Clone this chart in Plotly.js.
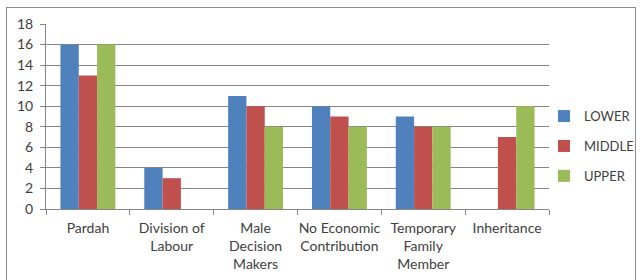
<!DOCTYPE html>
<html><head><meta charset="utf-8">
<script src="https://cdn.plot.ly/plotly-3.0.1.min.js"></script>
<style>
html,body{margin:0;padding:0;background:#fff;}
#wrap{position:relative;width:643px;height:280px;}
#chart{width:643px;height:280px;}
#frame{position:absolute;left:6px;top:7px;width:630px;height:280px;border:1px solid #8c8c8c;box-sizing:border-box;pointer-events:none;}
</style>
</head><body>
<div id="wrap"><div id="chart"></div><div id="frame"></div></div>
<script>
const categories = ["Pardah", "Division of<br>Labour", "Male<br>Decision<br>Makers", "No Economic<br>Contribution", "Temporary<br>Family<br>Member", "Inheritance"];
const lower  = [16, 4, 11, 10, 9, 0];
const middle = [13, 3, 10, 9, 8, 7];
const upper  = [16, 0, 8, 8, 8, 10];
const seriesNames = ["LOWER", "MIDDLE", "UPPER"];
const colors = ["#4F81BD", "#C0504D", "#9BBB59"];
const yTicks = [0, 2, 4, 6, 8, 10, 12, 14, 16, 18];

const data = [lower, middle, upper].map((vals, i) => ({
  type: "bar",
  name: seriesNames[i],
  legendgroup: seriesNames[i],
  x: categories,
  y: vals,
  marker: {color: colors[i], line: {width: 0}},
  hoverinfo: "skip"
}));

const fontFam = "Lato, 'Open Sans', sans-serif";
const layout = {
  width: 643, height: 280,
  margin: {l: 46, r: 94, t: 24, b: 71, autoexpand: false},
  paper_bgcolor: "rgba(0,0,0,0)",
  plot_bgcolor: "#fff",
  barmode: "group",
  bargap: 0.345,
  bargroupgap: 0,
  font: {family: fontFam, size: 13, color: "#404040"},
  showlegend: true,
  legend: {x: 0.99, xanchor: "left", y: 0.34, yanchor: "middle",
           font: {family: fontFam, size: 13, color: "#404040"},
           tracegroupgap: 10, itemwidth: 30},
  xaxis: {
    type: "category",
    tickangle: 0,
    showline: true, linecolor: "#868686", linewidth: 1,
    ticks: "outside", tickson: "boundaries", ticklen: 5, tickcolor: "#868686",
    showgrid: false, zeroline: false,
    tickfont: {family: fontFam, size: 14, color: "#404040"},
    ticklabelstandoff: 6
  },
  yaxis: {
    range: [0, 18],
    tickvals: yTicks,
    showline: true, linecolor: "#868686", linewidth: 1,
    ticks: "outside", ticklen: 5, tickcolor: "#868686",
    showgrid: true, gridcolor: "#868686", gridwidth: 1,
    zeroline: false,
    tickfont: {family: fontFam, size: 14, color: "#404040"},
    ticklabelstandoff: 4
  }
};
Plotly.newPlot("chart", data, layout, {displayModeBar: false, staticPlot: true});
</script>
</body></html>
